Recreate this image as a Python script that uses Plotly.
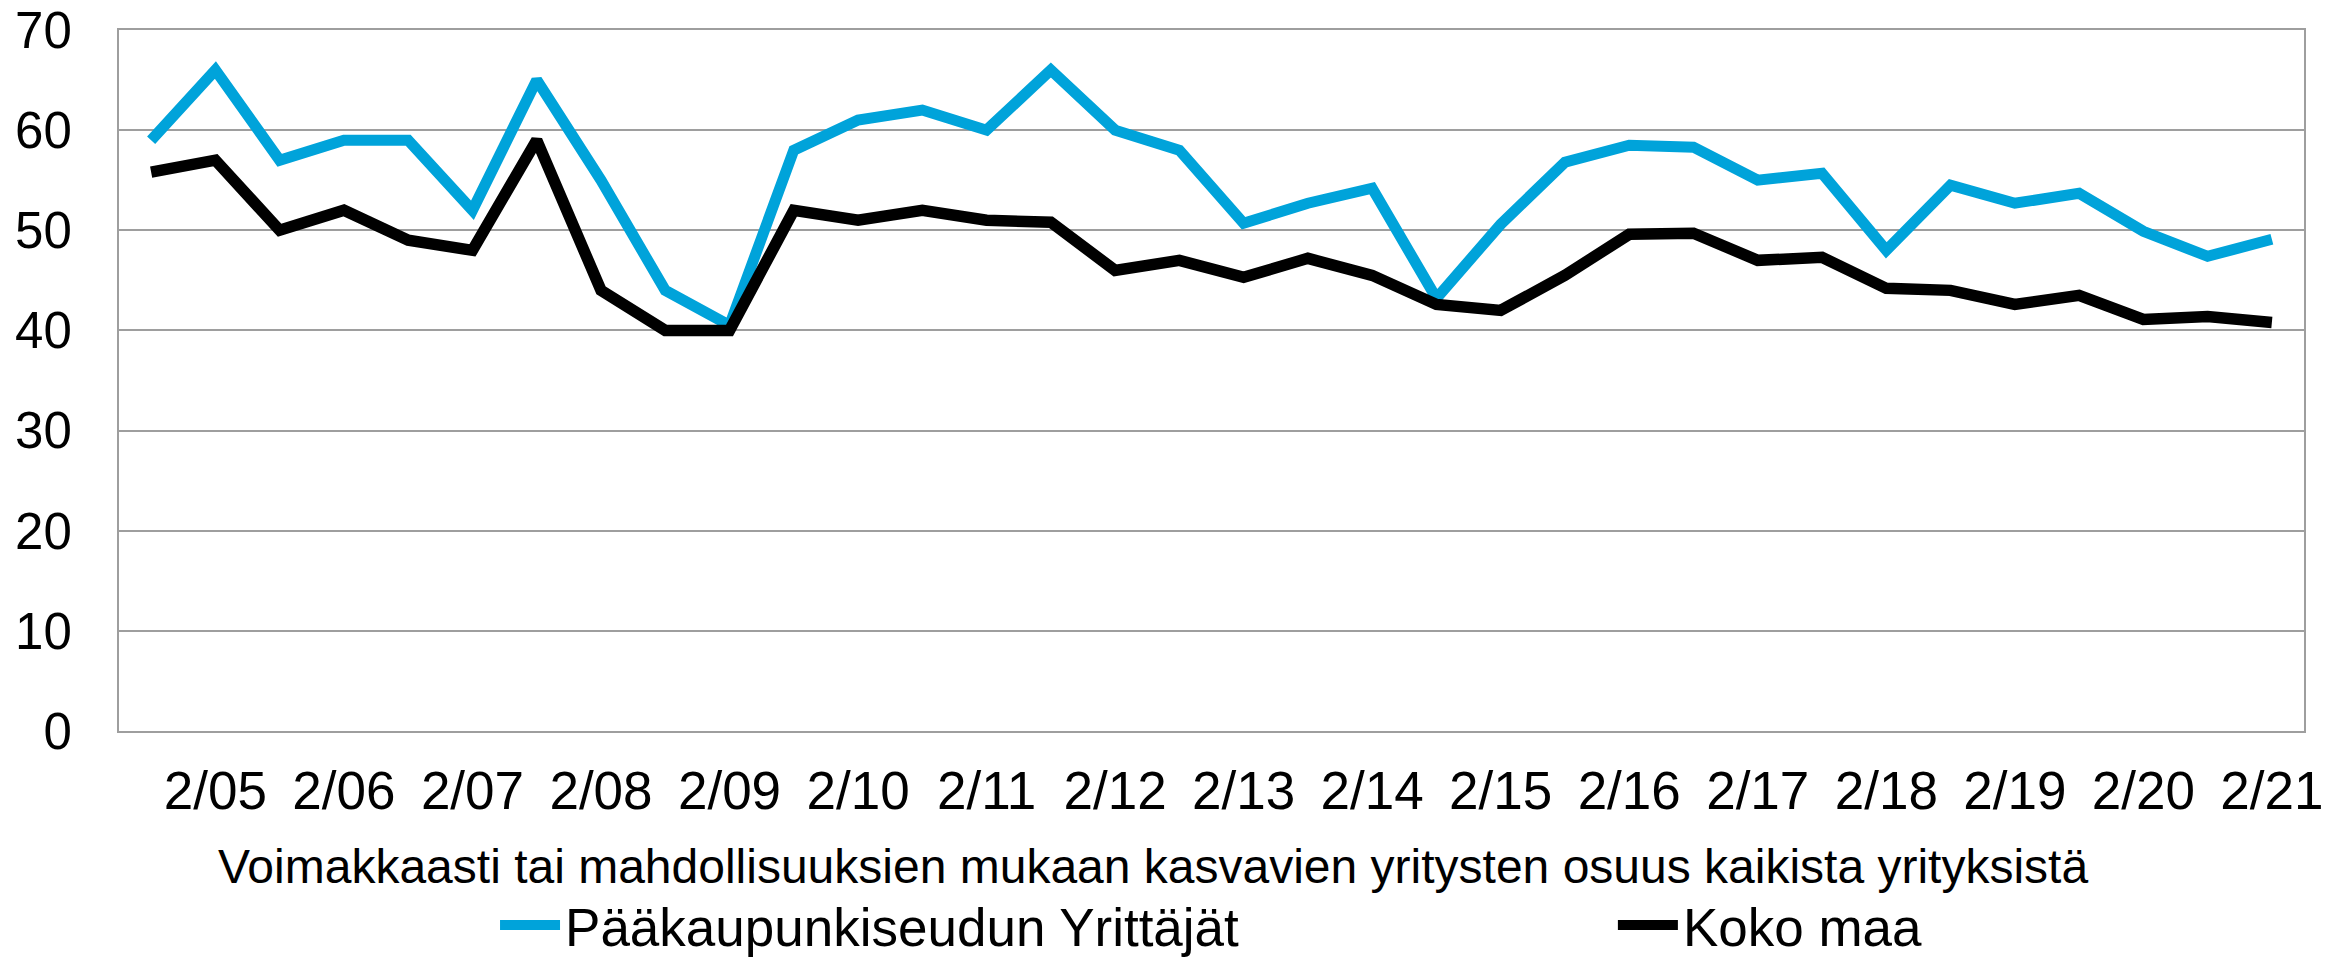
import plotly.graph_objects as go

categories = ["8/04", "2/05", "8/05", "2/06", "8/06", "2/07", "8/07", "2/08", "8/08", "2/09",
              "8/09", "2/10", "8/10", "2/11", "8/11", "2/12", "8/12", "2/13", "8/13", "2/14",
              "8/14", "2/15", "8/15", "2/16", "8/16", "2/17", "8/17", "2/18", "8/18", "2/19",
              "8/19", "2/20", "8/20", "2/21"]

paakaupunkiseutu = [59, 66, 57, 59, 59, 52, 65, 55, 44, 40.5,
                    58, 61, 62, 60, 66, 60, 58, 50.7, 52.7, 54.2,
                    43.2, 50.6, 56.8, 58.5, 58.3, 55.0, 55.7, 48.0, 54.5, 52.7,
                    53.7, 49.9, 47.4, 49.1]

koko_maa = [55.8, 57, 50, 52, 49, 48, 59, 44, 40, 40,
            52, 51, 52, 51, 50.8, 46, 47, 45.3, 47.2, 45.5,
            42.6, 42.0, 45.5, 49.6, 49.7, 47.0, 47.3, 44.2, 44.0, 42.6,
            43.5, 41.1, 41.4, 40.8]

tick_labels = ["2/05", "2/06", "2/07", "2/08", "2/09", "2/10", "2/11", "2/12", "2/13",
               "2/14", "2/15", "2/16", "2/17", "2/18", "2/19", "2/20", "2/21"]

series_names = ["Pääkaupunkiseudun Yrittäjät", "Koko maa"]
x_title = "Voimakkaasti tai mahdollisuuksien mukaan kasvavien yritysten osuus kaikista yrityksistä"

FONT = "Liberation Sans, Arial, sans-serif"
GRID = "#9E9E9E"

fig = go.Figure()
fig.add_trace(go.Scatter(x=categories, y=paakaupunkiseutu, mode="lines", name=series_names[0],
                         line=dict(color="#00A3DA", width=11), legend="legend"))
fig.add_trace(go.Scatter(x=categories, y=koko_maa, mode="lines", name=series_names[1],
                         line=dict(color="#000000", width=11.5), legend="legend2"))

legend_common = dict(orientation="h", xanchor="left", yanchor="middle",
                     xref="container", yref="container",
                     font=dict(size=53, family=FONT, color="black"),
                     bgcolor="rgba(0,0,0,0)", itemwidth=60)

fig.update_layout(
    template="plotly",
    width=2345, height=960,
    margin=dict(l=119, r=41, t=30, b=229, autoexpand=False),
    paper_bgcolor="white", plot_bgcolor="white",
    font=dict(family=FONT, color="black", size=52),
    showlegend=True,
    legend=dict(x=0.2111, y=0.0365, **legend_common),
    legend2=dict(x=0.6878, y=0.0365, **legend_common),
    annotations=[dict(text=x_title, xref="paper", yref="paper", x=0.4732, y=-0.194,
                      xanchor="center", yanchor="middle", showarrow=False,
                      font=dict(size=48, family=FONT, color="black"))],
)

fig.update_xaxes(
    type="category", categoryorder="array", categoryarray=categories,
    tickmode="array", tickvals=tick_labels, ticktext=tick_labels,
    ticks="outside", ticklen=12, tickcolor="rgba(0,0,0,0)",
    tickfont=dict(size=53, family=FONT, color="black"),
    showgrid=False, showline=True, linecolor=GRID, linewidth=2, mirror=True,
    range=[-0.5, len(categories) - 0.5], zeroline=False, automargin=False,
)
fig.update_yaxes(
    range=[0, 70], tickvals=[0, 10, 20, 30, 40, 50, 60, 70],
    ticks="outside", ticklen=35, tickcolor="rgba(0,0,0,0)",
    tickfont=dict(size=51, family=FONT, color="black"),
    showgrid=True, gridcolor=GRID, gridwidth=2,
    showline=True, linecolor=GRID, linewidth=2, mirror=True, zeroline=False,
    automargin=False,
)

fig.write_html("out.html", config={"displayModeBar": False},
               post_script="document.body.style.margin='0';document.body.style.overflow='hidden';")
